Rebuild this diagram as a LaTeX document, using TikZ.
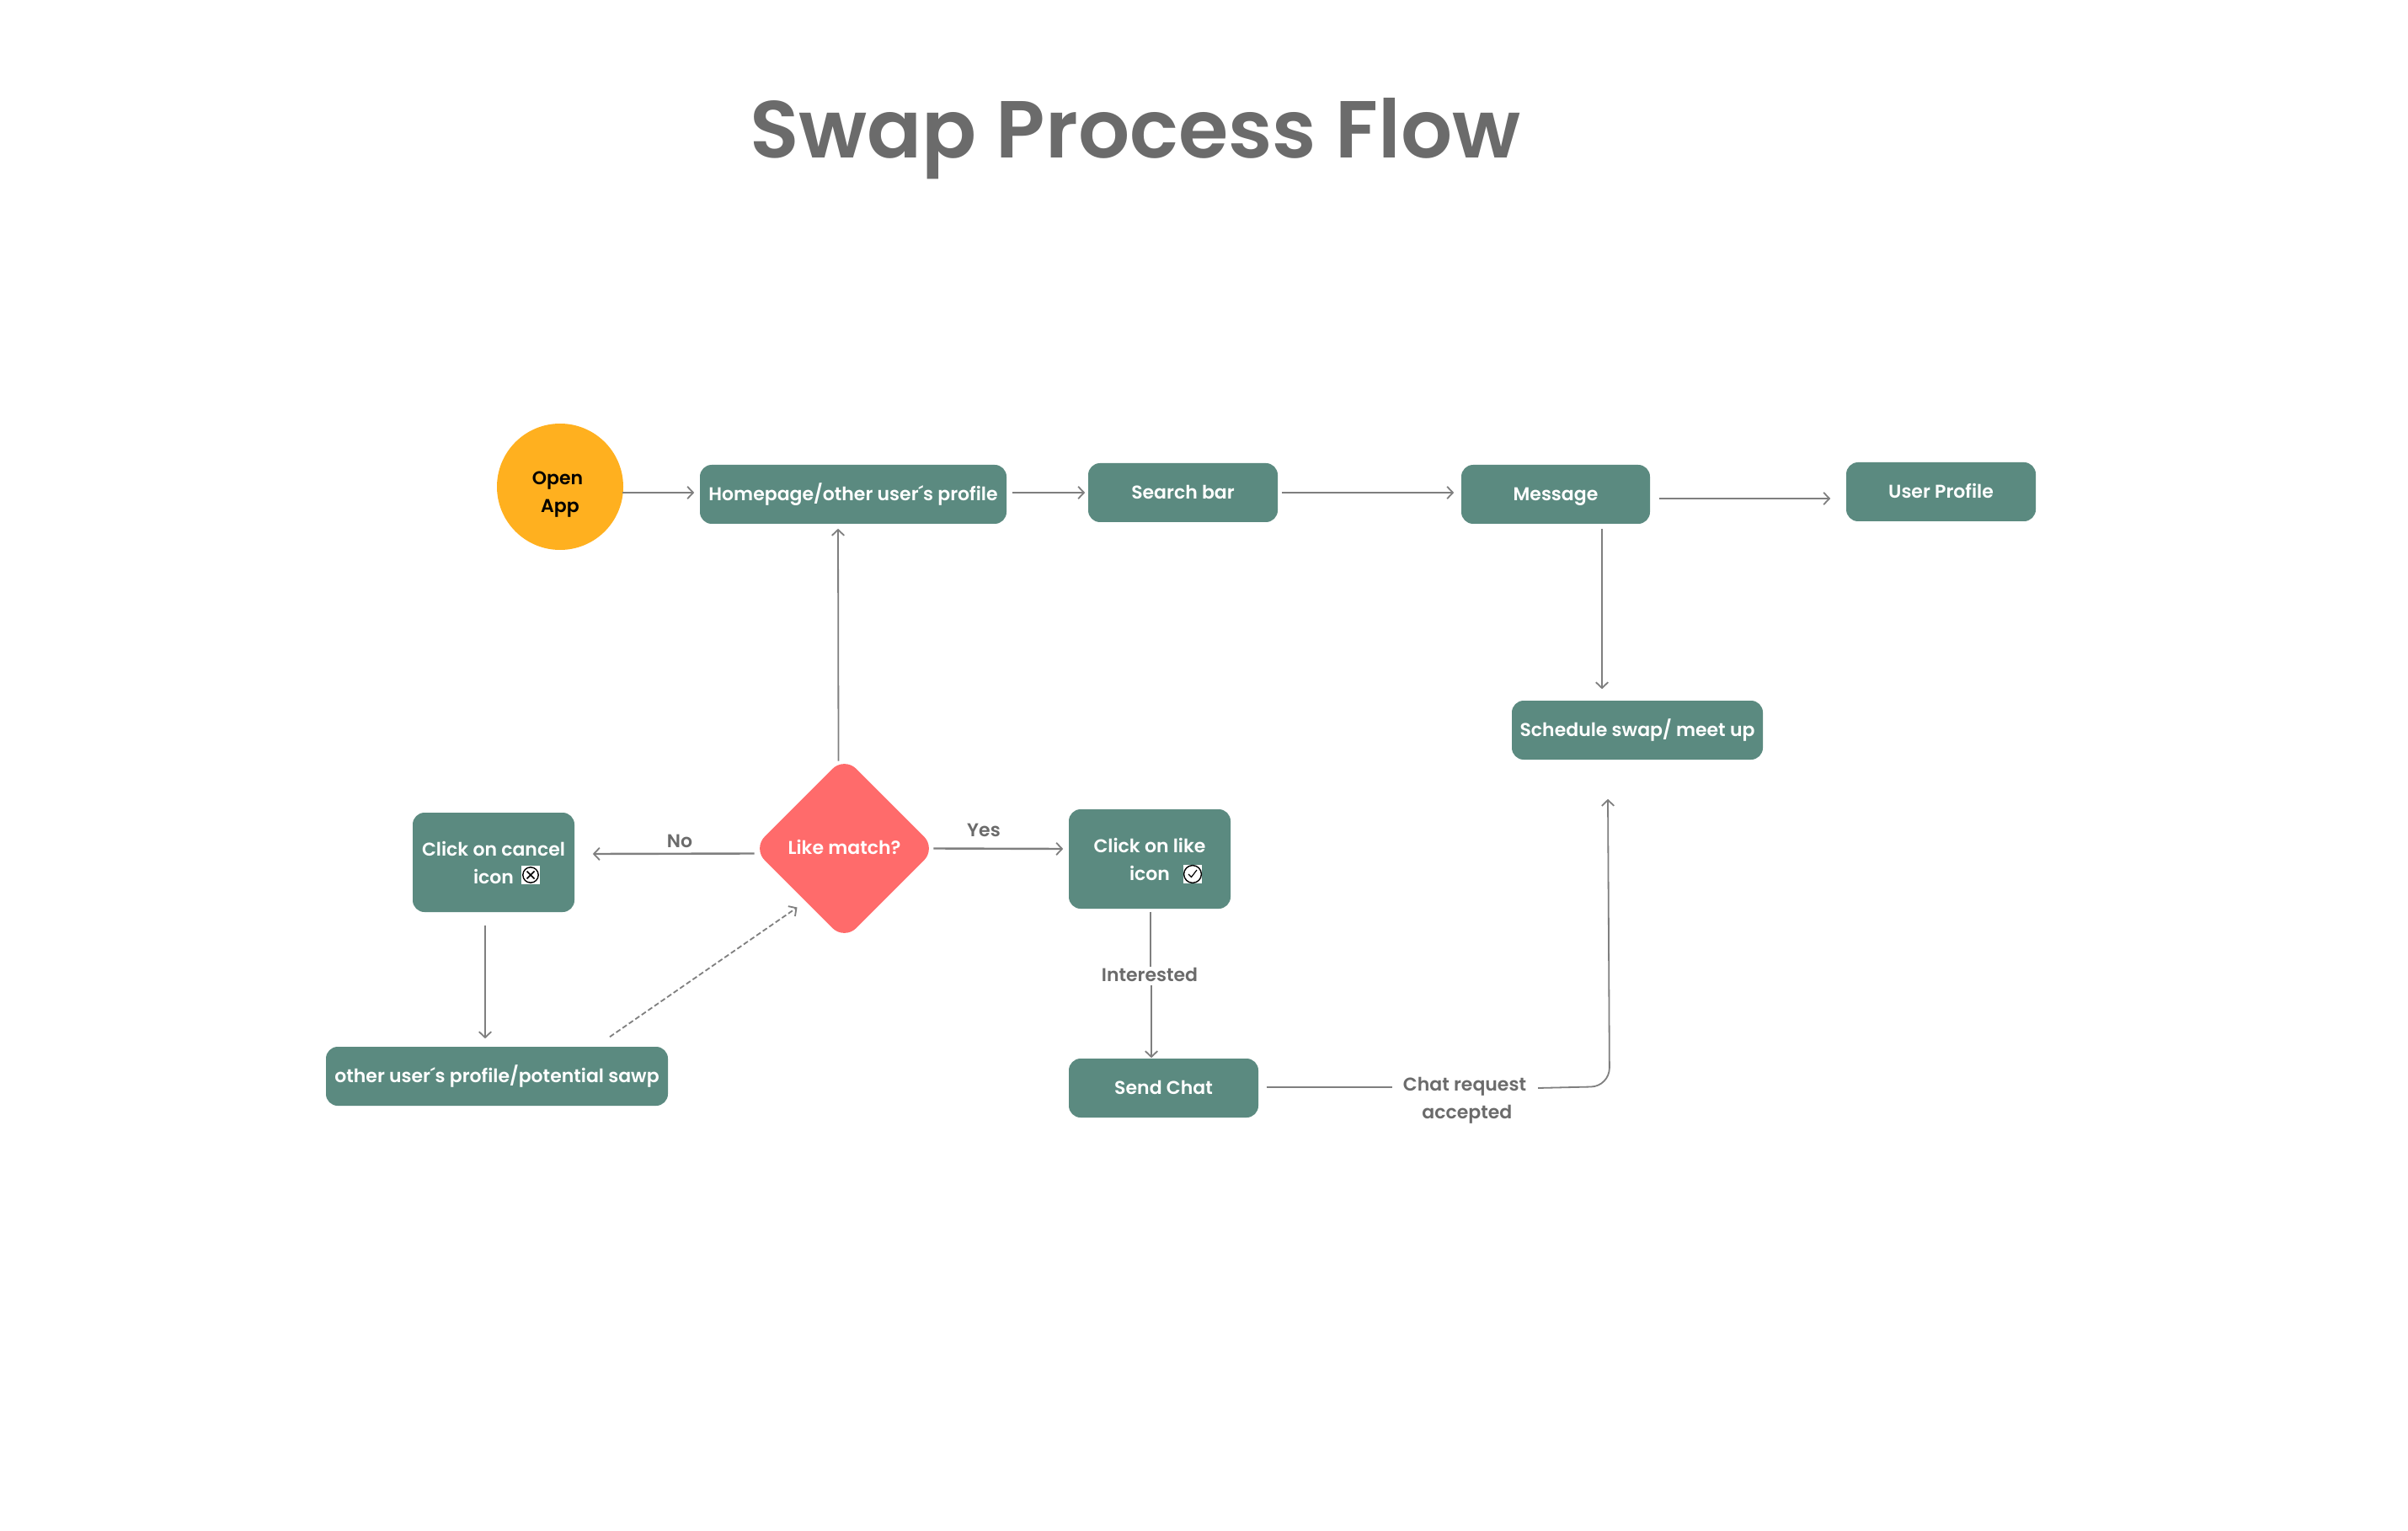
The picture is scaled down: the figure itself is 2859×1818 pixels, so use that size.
\documentclass[tikz,border=0pt]{standalone}
\usepackage{fontspec}
\setmainfont{Poppins SemiBold}
\newfontfamily\titlefont{Poppins SemiBold}
\usetikzlibrary{arrows.meta,calc,shapes.geometric}
\definecolor{teal}{HTML}{5B8A80}
\definecolor{amber}{HTML}{FFB01F}
\definecolor{coral}{HTML}{FF6B6B}
\definecolor{wire}{HTML}{7F7F7F}
\definecolor{ink}{HTML}{6B6B6B}
\tikzset{
  x=0.25pt,y=-0.25pt,
  box/.style={fill=teal,rounded corners=3.5pt,inner sep=0pt,text=white,align=center,font=\fontsize{5.5pt}{8.25pt}\selectfont,minimum height=17.5pt},
  single/.style={box,text height=5pt,text depth=1.2pt},
  lab/.style={inner sep=0pt,text=ink,align=center,font=\fontsize{5.5pt}{8.25pt}\selectfont},
  flow/.style={draw=wire,line width=0.45pt,-{Straight Barb[length=1.7pt,width=3.6pt,line width=0.45pt]}},
  flowthick/.style={flow,line width=0.6pt},
  plain/.style={draw=wire,line width=0.5pt},
  iconbg/.style={fill=white,inner sep=0pt,minimum size=5.5pt},
}
\begin{document}
\begin{tikzpicture}
\useasboundingbox (0,0) rectangle (2859,1818);
\fill[white] (0,0) rectangle (2859,1818);
\node[text=ink,inner sep=0pt,font=\titlefont\fontsize{24pt}{30pt}\selectfont] (title) at (1348,165) {Swap Process Flow};
\node[circle,fill=amber,minimum size=37.5pt,inner sep=0pt,align=center,text=black,font=\fontsize{5.5pt}{8.25pt}\selectfont] (open) at (665,578) {\rule{0pt}{8.6pt}Open\hspace*{1.5pt}\\App};
\node[single,minimum width=91pt] (home) at (1013,587) {Homepage/other user´s profile};
\node[single,minimum width=56.25pt] (search) at (1404.5,585) {Search bar};
\node[single,minimum width=56pt] (message) at (1847,587) {Message};
\node[single,minimum width=56.25pt] (user) at (2304.5,584) {User Profile};
\node[single,minimum width=74.5pt] (schedule) at (1944,867) {Schedule swap/ meet up};
\node[diamond,aspect=1,fill=coral,rounded corners=5pt,minimum width=54.5pt,minimum height=54.5pt,inner sep=0pt,text=white,font=\fontsize{5.5pt}{8.25pt}\selectfont] (match) at (1002.5,1007.5) {\makebox[0pt][c]{\raisebox{-1.8pt}[0pt][0pt]{Like match?}}};
\node[box,minimum width=48pt,minimum height=29.5pt] (cancel) at (586,1024) {Click on cancel\\icon};
\node[single,minimum width=101.5pt] (other) at (590,1278) {other user´s profile/potential sawp};
\node[box,minimum width=48pt,minimum height=29.5pt] (like) at (1365,1020) {Click on like\\icon};
\node[single,minimum width=56.25pt] (send) at (1381.5,1292) {Send Chat};
\node[iconbg] (xicon) at (630,1039) {};
\draw[black,line width=0.35pt] (xicon) circle (2.3pt);
\draw[black,line width=0.4pt] ($(xicon)+(-4.5,-4.5)$) -- ($(xicon)+(4.5,4.5)$) ($(xicon)+(-4.5,4.5)$) -- ($(xicon)+(4.5,-4.5)$);
\node[iconbg] (vicon) at (1416,1038) {};
\draw[black,line width=0.35pt] (vicon) circle (2.6pt);
\draw[black,line width=0.3pt] ($(vicon)+(-5,0)$) -- ($(vicon)+(-1.5,3.5)$) -- ($(vicon)+(5,-5)$);
\node[lab] (no) at (807,999) {No};
\node[lab] (yes) at (1168,986) {Yes};
\node[lab] (interested) at (1365,1157) {Interested};
\node[lab] (accepted) at (1739,1307) {Chat request\\\hspace*{1.4pt}accepted};
\draw[flowthick] ($(open.center)+(74,7)$) -- ($(home.west)+(-6,-2)$);
\draw[flowthick] ($(home.east)+(6,-2)$) -- ($(search.west)+(-3,0)$);
\draw[flow] ($(search.east)+(4,0)$) -- ($(message.west)+(-8,-2)$);
\draw[flowthick] ($(message.east)+(10,5)$) -- ($(user.west)+(-18,8)$);
\draw[flow] ($(message.south)+(55,5)$) -- ($(schedule.north)+(-42,-13)$);
\draw[flow] ($(match.north)+(-7,6)$) -- ($(home.south)+(-18,5)$);
\draw[flowthick] ($(match.west)+(3,6)$) -- ($(cancel.east)+(21,-10)$);
\draw[flowthick] ($(match.east)+(-4,0)$) -- ($(like.west)+(-6,-12)$);
\draw[flow] ($(cancel.south)+(-10,15)$) -- ($(other.north)+(-14,-9)$);
\draw[flow,dash pattern=on 1.5pt off 0.8pt] ($(other.north)+(134,-11)$) -- ($(match.center)+(-56,70)$);
\draw[plain] ($(like.south)+(1,3)$) -- ($(interested.center)+(1,-9)$);
\draw[flow] ($(interested.center)+(2,13)$) -- ($(send.north)+(-14.5,0)$);
\draw[plain,line width=0.6pt] ($(send.east)+(9,-1)$) -- ($(accepted.center)+(-86,-16)$);
\coordinate (bend) at (1911,1290);
\draw[flow,rounded corners=5.5pt] ($(accepted.center)+(87,-15)$) -- (bend) -- ($(schedule.south)+(-35,46)$);
\end{tikzpicture}
\end{document}
